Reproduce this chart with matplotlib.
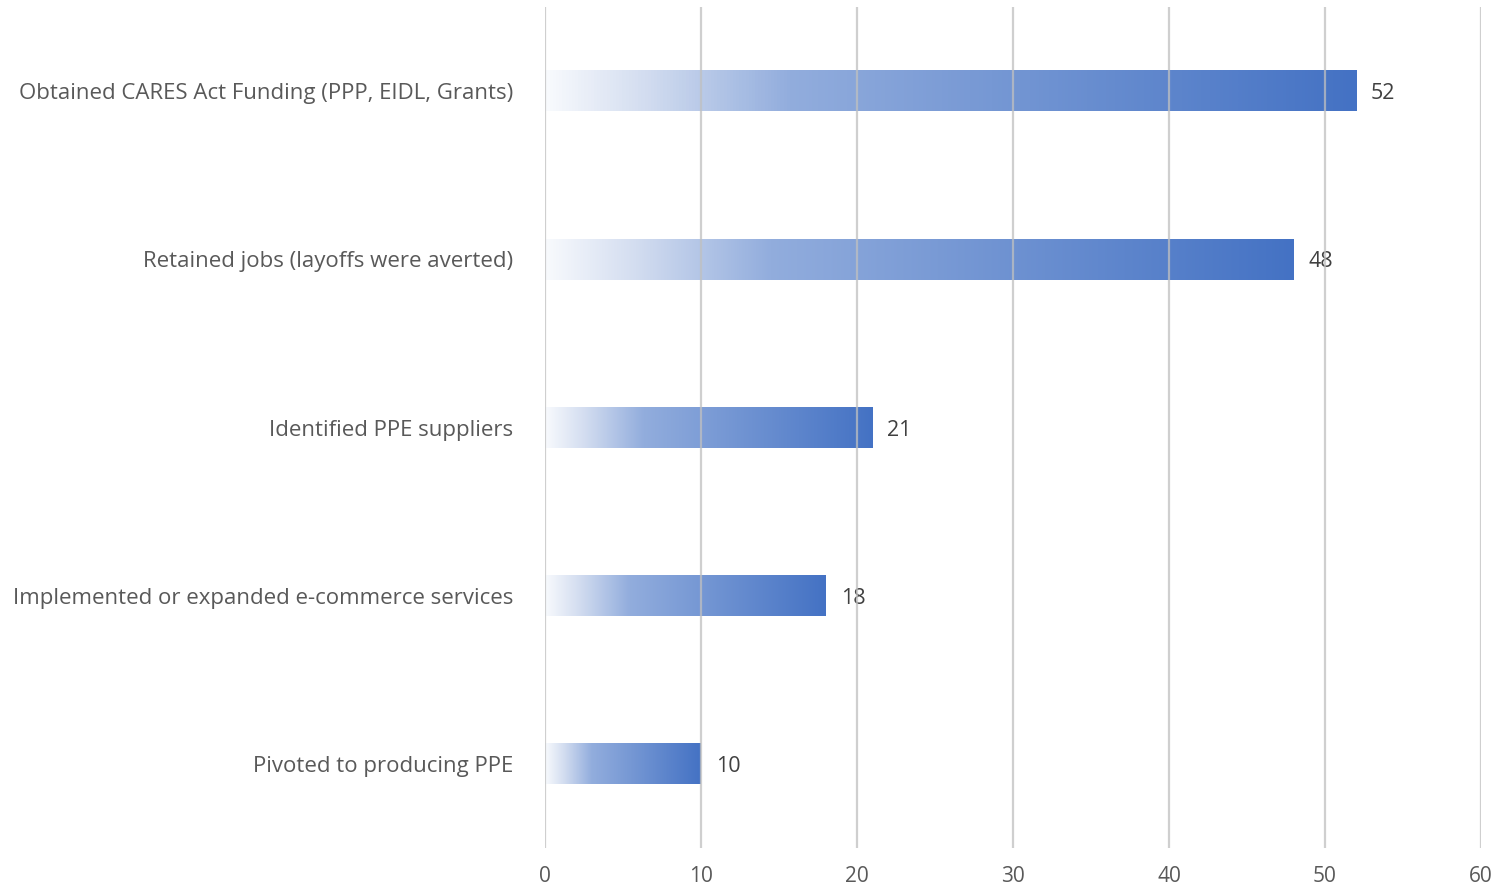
import matplotlib.pyplot as plt
import numpy as np
from matplotlib.colors import LinearSegmentedColormap

categories = [
    'Obtained CARES Act Funding (PPP, EIDL, Grants)',
    'Retained jobs (layoffs were averted)',
    'Identified PPE suppliers',
    'Implemented or expanded e-commerce services',
    'Pivoted to producing PPE',
]
values = [52, 48, 21, 18, 10]
xticks = [0, 10, 20, 30, 40, 50, 60]

plt.rcParams['font.family'] = ['Open Sans', 'DejaVu Sans']

# white -> light blue -> blue, stretched along each bar
cmap = LinearSegmentedColormap.from_list('grad', [
    (0.0, '#f8fafd'),
    (0.12, '#d3ddf0'),
    (0.3, '#92addd'),
    (1.0, '#4472c4'),
])

fig = plt.figure(figsize=(14.94, 8.89), dpi=100)
ax = fig.add_axes([0.3648, 0.0461, 0.6265, 0.946])

bar_h = 0.24
grad = np.linspace(0, 1, 256).reshape(1, -1)
for i, v in enumerate(values):
    ax.imshow(grad, cmap=cmap, aspect='auto', interpolation='bilinear',
              extent=[0, v, i + bar_h / 2, i - bar_h / 2], zorder=2)
    ax.text(v + 0.95, i, str(v), va='center_baseline', ha='left', fontsize=15.5, color='#404040')

ax.set_xlim(0, 60)
ax.set_ylim(4.5, -0.5)
ax.set_xticks(xticks)
ax.set_yticks(range(len(categories)))
ax.set_yticklabels(categories, fontsize=16)
for x in xticks:
    ax.axvline(x, color='#c0c0c0', lw=1.6, alpha=0.75, zorder=3)

for s in ax.spines.values():
    s.set_visible(False)
ax.tick_params(axis='both', length=0, labelcolor='#595959')
ax.tick_params(axis='x', pad=13, labelsize=15)
ax.tick_params(axis='y', pad=23)

fig.savefig('out.png', dpi=100)
